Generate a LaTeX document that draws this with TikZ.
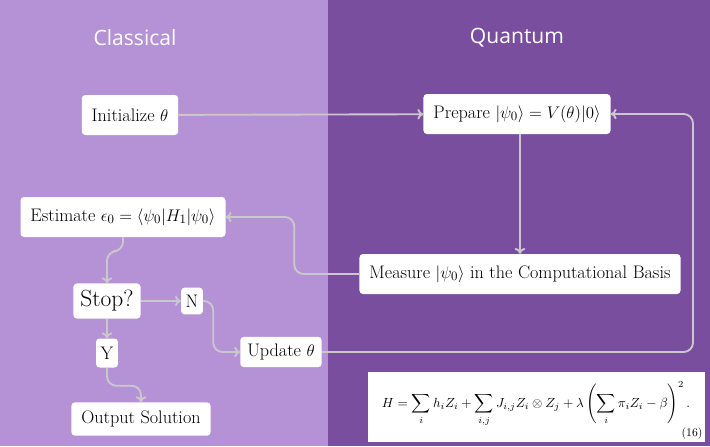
\documentclass[tikz,border=0pt]{standalone}
\usepackage{amsmath}
\usepackage{amssymb}
\usepackage{fontspec}
\setsansfont{Open Sans}
\usetikzlibrary{arrows.meta}

\definecolor{classicbg}{HTML}{B592D6}
\definecolor{quantumbg}{HTML}{7A4E9F}
\definecolor{flowgray}{HTML}{C9C9C9}

\tikzset{
    stage/.style={draw=none, fill=white, rounded corners=3pt, inner xsep=8.5pt, inner ysep=6pt,
        minimum height=1.2cm, font=\fontsize{15.5}{18}\selectfont},
    tag/.style={stage, minimum height=0.8cm, inner xsep=4pt},
    flow/.style={draw=flowgray, line width=1.6pt, rounded corners=8pt, -{To[length=5pt,width=9pt]}},
    title/.style={text=white, font=\sffamily\fontsize{18}{21}\selectfont},
}

\begin{document}
\begin{tikzpicture}[x=0.03cm, y=-0.03cm]
    \useasboundingbox (0,0) rectangle (710,446);
    \fill[classicbg] (0,0) rectangle (328,446);
    \fill[quantumbg] (328,0) rectangle (710,446);

    \node[title] (classical) at (135,38) {Classical};
    \node[title] (quantum) at (517,38) {Quantum};

    \node[stage] (init) at (130,115) {Initialize \(\theta\)};
    \node[stage] (prep) at (517,114) {Prepare \(|\psi_0\rangle = V(\theta)|0\rangle\)};
    \node[stage] (est) at (123,217) {Estimate \(\epsilon_0 = \langle\psi_0|H_1|\psi_0\rangle\)};
    \node[stage] (meas) at (520,274) {Measure \(|\psi_0\rangle\) in the Computational Basis};
    \node[stage, font=\fontsize{20}{24}\selectfont, minimum height=1.05cm, inner xsep=6pt] (stop) at (107,301) {Stop?};
    \node[tag] (no) at (192,301) {N};
    \node[tag, minimum height=0.87cm] (yes) at (107,353) {Y};
    \node[tag, minimum height=0.87cm, inner xsep=6pt] (upd) at (281,352) {Update \(\theta\)};
    \node[stage, minimum height=1cm] (out) at (141,419) {Output Solution};

    \node[fill=white, inner sep=0pt, minimum width=10.1cm, minimum height=2.1cm] (ham) at (536.5,407) {};
    \node[scale=1.13] (hameq) at (536,404) {\(\displaystyle H = \sum_i h_i Z_i + \sum_{i,j} J_{i,j} Z_i \otimes Z_j + \lambda \left(\sum_i \pi_i Z_i - \beta\right)^{2}.\)};
    \node[anchor=south east, inner sep=2pt] (eqno) at (ham.south east) {(16)};

    \draw[flow] (init) -- (prep);
    \draw[flow] (prep.south -| meas) -- (meas);
    \draw[flow] (meas.west) -- ++(-65,0) |- (est.east);
    \draw[flow] (est.south) -- ++(0,14) -| (stop.north);
    \draw[flow] (stop) -- (no);
    \draw[flow] (no.east) -- ++(10,0) |- (upd.west);
    \draw[flow] (stop) -- (yes);
    \draw[flow] (yes.south) -- ++(0,18) -| (out.north);
    \draw[flow] (upd.east) -- (693,352) |- (prep.east);
\end{tikzpicture}
\end{document}
